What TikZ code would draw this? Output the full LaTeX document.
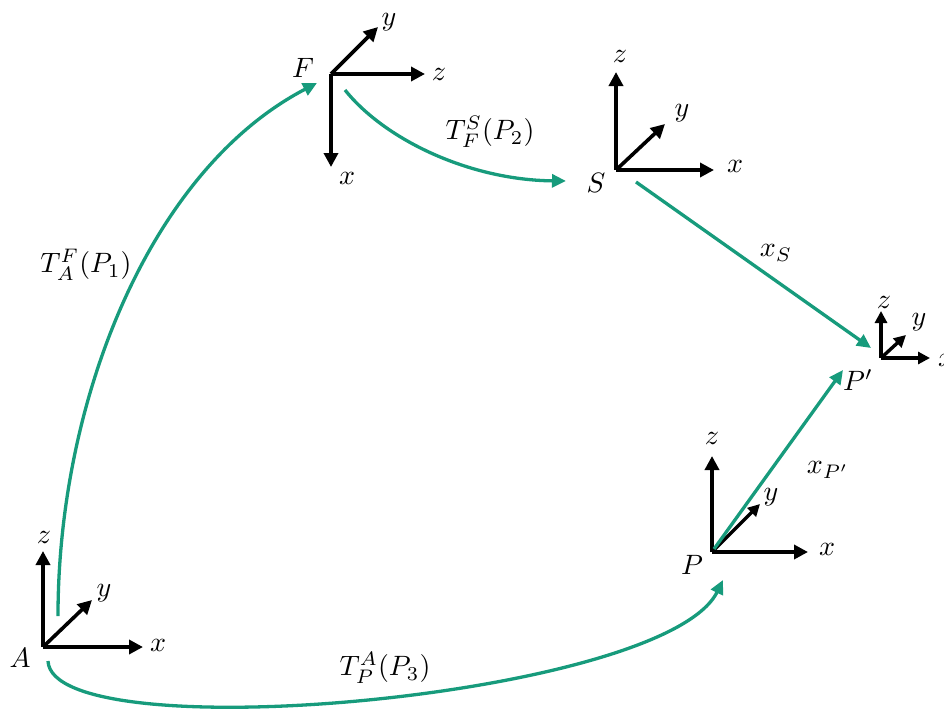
\documentclass[tikz,border=0pt]{standalone}
\usetikzlibrary{arrows.meta}
\definecolor{tgreen}{RGB}{23,155,124}
\begin{document}
\begin{tikzpicture}[x=1pt,y=-1pt,
  axis/.style={line width=3.6pt,-{Triangle[length=14pt,width=14pt]}},
  smallaxis/.style={line width=3.4pt,-{Triangle[length=12pt,width=12pt]}},
  trans/.style={tgreen,line width=3.3pt,-{Triangle[length=14pt,width=13pt]}},
  lbl/.style={inner sep=0pt,scale=2.8}]
\useasboundingbox (0,0) rectangle (944,709);
% frame origins
\coordinate (A0) at (43,647);
\coordinate (F0) at (331,74);
\coordinate (S0) at (616,170);
\coordinate (Q0) at (881,358);
\coordinate (P0) at (712,552);
% frame A
\draw[axis] (A0) -- (43,551) coordinate (Az);
\draw[axis] (A0) -- (143,647) coordinate (Ax);
\draw[axis] (A0) -- (92,600) coordinate (Ay);
\node[lbl] (Alab) at (20,658) {$A$};
\node[lbl] (Azl) at (44,537) {$z$};
\node[lbl] (Axl) at (158,645) {$x$};
\node[lbl] (Ayl) at (104,593) {$y$};
% frame F
\draw[axis] (F0) -- (378,27) coordinate (Fy);
\draw[axis] (F0) -- (425,74) coordinate (Fz);
\draw[axis] (F0) -- (331,167) coordinate (Fx);
\node[lbl] (Flab) at (303,68) {$F$};
\node[lbl] (Fyl) at (389,22) {$y$};
\node[lbl] (Fzl) at (439,74) {$z$};
\node[lbl] (Fxl) at (347,178) {$x$};
% frame S
\draw[axis] (S0) -- (616,72) coordinate (Sz);
\draw[axis] (S0) -- (665,124) coordinate (Sy);
\draw[axis] (S0) -- (714,170) coordinate (Sx);
\node[lbl] (Slab) at (596,183) {$S$};
\node[lbl] (Szl) at (620,56) {$z$};
\node[lbl] (Syl) at (682,113) {$y$};
\node[lbl] (Sxl) at (735,166) {$x$};
% frame P'
\draw[smallaxis] (Q0) -- (881,311) coordinate (Qz);
\draw[smallaxis] (Q0) -- (906,335) coordinate (Qy);
\draw[smallaxis] (Q0) -- (930,358) coordinate (Qx);
\node[lbl] (Qlab) at (858,380) {$P'$};
\node[lbl] (Qzl) at (884,302) {$z$};
\node[lbl] (Qyl) at (919,322) {$y$};
\node[lbl] (Qxl) at (946,360) {$x$};
% frame P
\draw[axis] (P0) -- (712,456) coordinate (Pz);
\draw[smallaxis] (P0) -- (760,504) coordinate (Py);
\draw[axis] (P0) -- (808,552) coordinate (Px);
\node[lbl] (Plab) at (692,565) {$P$};
\node[lbl] (Pzl) at (712,438) {$z$};
\node[lbl] (Pyl) at (771,497) {$y$};
\node[lbl] (Pxl) at (827,549) {$x$};
% transformation arrows
\coordinate (a1) at (58,616);
\coordinate (f1) at (317,83);
\draw[trans] (a1) .. controls (58,400) and (150,170) .. (f1);
\coordinate (f2) at (345,90);
\coordinate (s1) at (566,181);
\draw[trans] (f2) .. controls (385,140) and (470,180) .. (s1);
\coordinate (s2) at (636,182);
\coordinate (q1) at (871,348);
\draw[trans] (s2) -- (q1);
\coordinate (p2) at (714,549);
\coordinate (q2) at (843,370);
\draw[trans] (p2) -- (q2);
\coordinate (a2) at (48,661);
\coordinate (p1) at (723,580);
\draw[trans] (a2) .. controls (52,752) and (665,698) .. (p1);
% labels
\node[lbl] (t1) at (86,265) {$T_A^F(P_1)$};
\node[lbl] (t2) at (490,132) {$T_F^S(P_2)$};
\node[lbl] (t3) at (776,253) {$x_S$};
\node[lbl] (t4) at (828,470) {$x_{P'}$};
\node[lbl] (t5) at (385,668) {$T_P^A(P_3)$};
\end{tikzpicture}
\end{document}
